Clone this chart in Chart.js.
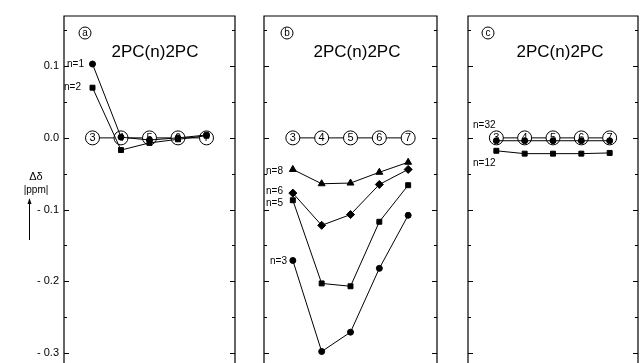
<!DOCTYPE html>
<html>
<head>
<meta charset="utf-8">
<script src="https://cdn.jsdelivr.net/npm/chart.js@4"></script>
<style>
  html, body { margin: 0; padding: 0; background: #fff; }
  #wrap { position: relative; width: 640px; height: 363px; overflow: hidden; }
  canvas { position: absolute; top: 0; }
</style>
</head>
<body>
<div id="wrap">
  <canvas id="panel-a" width="240" height="363" style="left:0px"></canvas>
  <canvas id="panel-b" width="200" height="363" style="left:240px"></canvas>
  <canvas id="panel-c" width="200" height="363" style="left:440px"></canvas>
</div>
<script>
// carbon positions (circled numbers) along the x axis
const positions = [3, 4, 5, 6, 7];
const refLabels = ['3', '4', '5', '6', '7'];
const refValues = [0, 0, 0, 0, 0];

// y axis ticks (ppm)
const yMajor = [0.1, 0.0, -0.1, -0.2, -0.3];
const yMinor = [0.15, 0.05, -0.05, -0.15, -0.25];
const yTickLabels = ['0.1', '0.0', '- 0.1', '- 0.2', '- 0.3'];

// panel a
const aN1 = [0.103, 0.001, -0.003, 0.0, 0.004];
const aN2 = [0.07, -0.017, -0.007, -0.002, 0.003];
// panel b
const bN8 = [-0.044, -0.064, -0.063, -0.048, -0.034];
const bN6 = [-0.077, -0.122, -0.107, -0.065, -0.044];
const bN5 = [-0.087, -0.203, -0.207, -0.117, -0.066];
const bN3 = [-0.171, -0.298, -0.271, -0.182, -0.108];
// panel c
const cN32 = [-0.004, -0.004, -0.004, -0.004, -0.004];
const cN12 = [-0.018, -0.022, -0.022, -0.022, -0.021];

const FONT = '"Liberation Sans", Arial, sans-serif';
const pts = (vals) => vals.map((v, i) => ({ x: positions[i], y: v }));

const series = (vals, style, radius, label) => ({
  label,
  data: pts(vals),
  borderColor: '#000',
  borderWidth: 1,
  backgroundColor: '#000',
  pointStyle: style,
  pointRadius: radius,
  pointBorderWidth: 1,
  pointBackgroundColor: '#000',
  pointBorderColor: '#000',
  order: 1,
});

const refSeries = () => ({
  label: 'ref',
  data: pts(refValues),
  borderColor: '#000',
  borderWidth: 1,
  pointStyle: 'circle',
  pointRadius: 7,
  pointBorderWidth: 1,
  pointBackgroundColor: '#fff',
  pointBorderColor: '#000',
  refLabels: refLabels,
  order: 10,
});

// frame with inward ticks, titles and annotations
const framePlugin = {
  id: 'frame',
  afterDatasetDraw(chart, args) {
    const ds = chart.data.datasets[args.index];
    if (!ds.refLabels) return;
    const ctx = chart.ctx;
    ctx.save();
    ctx.fillStyle = '#000';
    ctx.font = '11px ' + FONT;
    ctx.textAlign = 'center';
    ctx.textBaseline = 'middle';
    args.meta.data.forEach((p, i) => ctx.fillText(ds.refLabels[i], p.x, p.y + 0.5));
    ctx.restore();
  },
  afterDraw(chart) {
    const o = chart.options.plugins.frame;
    const { ctx, chartArea: a, scales } = chart;
    const y = scales.y;
    ctx.save();
    ctx.strokeStyle = '#000';
    ctx.lineWidth = 1.2;
    ctx.beginPath();
    ctx.moveTo(a.left, a.bottom);
    ctx.lineTo(a.left, a.top);
    ctx.lineTo(a.right, a.top);
    ctx.lineTo(a.right, a.bottom);
    ctx.stroke();
    ctx.lineWidth = 1;
    const tick = (v, len) => {
      const py = Math.round(y.getPixelForValue(v)) + 0.5;
      ctx.beginPath();
      ctx.moveTo(a.left, py); ctx.lineTo(a.left + len, py);
      ctx.moveTo(a.right, py); ctx.lineTo(a.right - len, py);
      ctx.stroke();
    };
    yMajor.forEach((v) => tick(v, 5));
    yMinor.forEach((v) => tick(v, 3));
    ctx.fillStyle = '#000';
    if (o.showLabels) {
      ctx.font = '11px ' + FONT;
      ctx.textAlign = 'right';
      ctx.textBaseline = 'middle';
      yMajor.forEach((v, i) => ctx.fillText(yTickLabels[i], a.left - 5, y.getPixelForValue(v)));
      ctx.textAlign = 'center';
      ctx.font = '11px ' + FONT;
      ctx.fillText('\u0394\u03b4', 36, 177);
      ctx.font = '10px ' + FONT;
      ctx.fillText('|ppm|', 36, 190);
      ctx.beginPath();
      ctx.moveTo(29.5, 201); ctx.lineTo(29.5, 240);
      ctx.stroke();
      ctx.beginPath();
      ctx.moveTo(29.5, 198); ctx.lineTo(27.5, 204); ctx.lineTo(31.5, 204);
      ctx.closePath(); ctx.fill();
    }
    // panel letter
    ctx.beginPath();
    ctx.arc(o.letterX, 33, 6, 0, Math.PI * 2);
    ctx.stroke();
    ctx.font = '10px ' + FONT;
    ctx.textAlign = 'center';
    ctx.textBaseline = 'middle';
    ctx.fillText(o.letter, o.letterX, 33);
    // title
    ctx.font = '17px ' + FONT;
    ctx.fillText('2PC(n)2PC', o.titleX, 52);
    // n labels
    ctx.font = '10px ' + FONT;
    ctx.textAlign = 'left';
    o.notes.forEach((n) => ctx.fillText(n.text, n.x, n.y));
    ctx.restore();
  },
};

const makeChart = (id, datasets, pad, frame) =>
  new Chart(document.getElementById(id), {
    type: 'line',
    data: { datasets },
    options: {
      responsive: false,
      animation: false,
      events: [],
      layout: { autoPadding: false, padding: { left: pad[0], right: pad[1], top: 16, bottom: 0 } },
      scales: {
        x: { type: 'linear', min: 2, max: 8, display: false },
        y: { type: 'linear', min: -0.314, max: 0.17, display: false },
      },
      plugins: { legend: { display: false }, tooltip: { enabled: false }, frame },
    },
    plugins: [framePlugin],
  });

makeChart('panel-a', [
  series(aN1, 'circle', 3, 'n=1'),
  series(aN2, 'rect', 3.5, 'n=2'),
  refSeries(),
], [64, 5], {
  showLabels: true, letter: 'a', letterX: 85, titleX: 155,
  notes: [
    { text: 'n=1', x: 67, y: 64 },
    { text: 'n=2', x: 64, y: 87 },
  ],
});

makeChart('panel-b', [
  series(bN8, 'triangle', 4, 'n=8'),
  series(bN6, 'rectRot', 4, 'n=6'),
  series(bN5, 'rect', 3.5, 'n=5'),
  series(bN3, 'circle', 3, 'n=3'),
  refSeries(),
], [24, 3], {
  showLabels: false, letter: 'b', letterX: 47, titleX: 117,
  notes: [
    { text: 'n=8', x: 26, y: 171 },
    { text: 'n=6', x: 26, y: 191 },
    { text: 'n=5', x: 26, y: 203 },
    { text: 'n=3', x: 30, y: 261 },
  ],
});

makeChart('panel-c', [
  series(cN32, 'circle', 3, 'n=32'),
  series(cN12, 'rect', 3.5, 'n=12'),
  refSeries(),
], [28, 2], {
  showLabels: false, letter: 'c', letterX: 48, titleX: 120,
  notes: [
    { text: 'n=32', x: 33, y: 125 },
    { text: 'n=12', x: 33, y: 163 },
  ],
});
</script>
</body>
</html>
